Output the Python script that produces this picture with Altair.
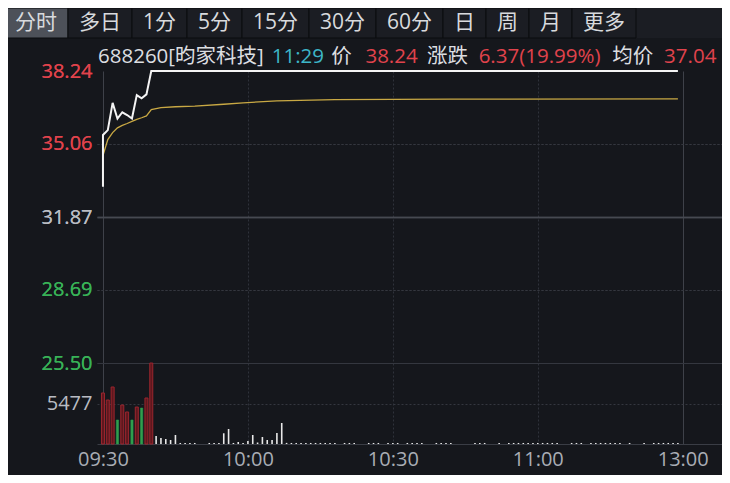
import altair as alt
import pandas as pd

# ---------------- data ----------------
time_ticks = [0, 30, 60, 90, 120]
time_labels = ["09:30", "10:00", "10:30", "11:00", "13:00"]
price_ticks = [25.50, 28.69, 31.87, 35.06, 38.24]
prev_close = 31.87
volume_ticks = [5477]

price_minutes = [0, 0, 1, 2, 3, 4, 5, 6, 7, 8, 9, 10, 119]
price_values = [33.19, 35.45, 35.66, 36.85, 36.16, 36.44, 36.32, 36.17, 37.19, 37.05, 37.22, 38.24, 38.24]

avg_minutes = [0, 1, 2, 3, 4, 5, 6, 7, 8, 9, 10, 12, 15, 19, 25, 29, 36, 48, 72, 119]
avg_values = [34.55, 35.25, 35.55, 35.76, 35.87, 35.95, 36.04, 36.13, 36.20, 36.28, 36.56,
              36.64, 36.68, 36.71, 36.79, 36.85, 36.94, 36.99, 37.01, 37.02]

volumes = [
    6900, 5950, 7710, 3250, 5270, 4330, 3250, 5000, 4870, 6220, 10950,
    1080, 810, 680, 540, 1220, 140, 140, 140, 140, 0,
    0, 140, 140, 140, 1450, 2030, 140, 270, 140, 400,
    1220, 200, 950, 540, 540, 1490, 2840, 150, 140, 140,
    140, 140, 140, 140, 140, 140, 140, 140, 0, 140,
    140, 140, 0, 0, 140, 140, 140, 0, 140, 140,
    140, 0, 140, 140, 140, 140, 0, 0, 140, 140,
    140, 140, 0, 0, 0, 0, 140, 140, 140, 0,
    0, 140, 0, 140, 140, 140, 140, 140, 140, 140,
    140, 140, 140, 140, 0, 0, 140, 140, 140, 0,
    140, 140, 140, 140, 140, 140, 140, 0, 140, 0,
    0, 140, 0, 140, 140, 140, 140, 140, 140,
]
volume_dirs = ["up", "up", "up", "down", "up", "up", "down", "up", "down", "up", "up"] + \
              ["flat"] * (len(volumes) - 11)

tabs = ["分时", "多日", "1分", "5分", "15分", "30分", "60分", "日", "周", "月", "更多"]
info_texts = ["688260[昀家科技]", "11:29", "价", "38.24", "涨跌", "6.37(19.99%)", "均价", "37.04"]

# ---------------- layout / style ----------------
X0, Y0 = 97, 71          # absolute position of plot origin
W, H = 625, 373          # plot size (extends to right edge of the drawing)
PX_PER_MIN = 4.91
PRICE_PANE = 292         # px height of price pane
VOL_PANE = H - PRICE_PANE
FONT = "Open Sans, Noto Sans CJK SC"
BG = "#15171c"
RED, GREEN, GREY = "#e0434c", "#38b257", "#b9bcc3"

x_start = -0.2
x_domain = [x_start, x_start + W / PX_PER_MIN]
price_low = price_ticks[-1] - (price_ticks[-1] - price_ticks[0]) * H / PRICE_PANE
vol_high = 2 * volume_ticks[0] * H / VOL_PANE

info_x_abs = [98, 276, 337, 372, 435, 488, 625, 678]
info_x_abs = [98 + (a - 98) * 0.976 for a in info_x_abs]
info_colors = ["#dcdee1", "#3db6c8", "#dcdee1", RED, "#dcdee1", RED, "#dcdee1", RED]

# tab geometry from label composition
tab_rows = []
cur = 4
for i, t in enumerate(tabs):
    n_digit = sum(c.isdigit() for c in t)
    n_cjk = len(t) - n_digit
    w = 22 + 21 * n_cjk + 12 * n_digit
    tab_rows.append({"label": t, "x": cur - X0, "x2": cur + w - X0,
                     "xc": cur + w / 2 - X0,
                     "fill": "#4d5159" if i == 0 else "#1b1d23"})
    cur += w

# ---------------- frames ----------------
price_df = pd.DataFrame({"t": price_minutes, "p": price_values, "idx": range(len(price_minutes))})
avg_df = pd.DataFrame({"t": avg_minutes, "p": avg_values, "idx": range(len(avg_minutes))})
vol_df = pd.DataFrame({"t": range(len(volumes)), "v": volumes, "dir": volume_dirs})
info_df = pd.DataFrame({"text": info_texts, "color": info_colors,
                        "x": [a - X0 for a in info_x_abs]})
tab_df = pd.DataFrame(tab_rows)

# ---------------- axes ----------------
label_expr = " : ".join(f"datum.value == {t} ? '{l}'" for t, l in zip(time_ticks, time_labels)) + " : ''"
edge_test = f"datum.value == {time_ticks[0]} || datum.value == {time_ticks[-1]}"
x_axis = alt.Axis(
    values=time_ticks, labelExpr=label_expr, title=None, ticks=False,
    domain=True, domainColor="#3a3d45", grid=True,
    gridColor={"condition": {"test": edge_test, "value": "#3e4149"}, "value": "#2f323a"},
    gridDash={"condition": {"test": edge_test, "value": []}, "value": [2, 2]},
    labelColor="#a9adb5", labelFont=FONT, labelFontSize=20, labelPadding=5,
    labelFlush=False, labelOverlap=False,
)
X = alt.X("t:Q", scale=alt.Scale(domain=x_domain, nice=False, zero=False), axis=x_axis)

solid_test = f"datum.value < {price_ticks[0] + 0.5} || abs(datum.value - {prev_close}) < 0.01"
price_axis = alt.Axis(
    values=price_ticks, format=".2f", orient="left", title=None, ticks=False, domain=False,
    grid=True,
    gridColor={"condition": {"test": f"abs(datum.value - {prev_close}) < 0.01", "value": "#464951"},
               "value": "#34373f"},
    gridWidth={"condition": {"test": f"abs(datum.value - {prev_close}) < 0.01", "value": 1.6},
               "value": 1},
    gridDash={"condition": {"test": solid_test, "value": []}, "value": [2, 2]},
    gridOpacity={"condition": {"test": f"datum.value > {price_ticks[-1] - 0.5}", "value": 0},
                 "value": 1},
    labelColor={"condition": [
        {"test": f"datum.value > {prev_close + 0.01}", "value": RED},
        {"test": f"datum.value < {prev_close - 0.01}", "value": GREEN}],
        "value": GREY},
    labelFont=FONT, labelFontSize=20, labelPadding=5, labelFlush=False, labelOverlap=False,
)
Yp = alt.Y("p:Q", scale=alt.Scale(domain=[price_low, price_ticks[-1]], nice=False, zero=False),
           axis=price_axis)

vol_axis = alt.Axis(
    values=volume_ticks, format="d", orient="left", title=None, ticks=False, domain=False,
    grid=True, gridColor="#34373f", gridDash=[2, 2],
    labelColor=GREY, labelFont=FONT, labelFontSize=20, labelPadding=5,
    labelFlush=False, labelOverlap=False,
)

# ---------------- layers ----------------
dirs = ["up", "down", "flat"]
vol_bars = alt.Chart(vol_df).mark_bar().encode(
    x=X,
    y=alt.Y("v:Q", scale=alt.Scale(domain=[0, vol_high], nice=False), axis=vol_axis),
    fill=alt.Fill("dir:N", scale=alt.Scale(domain=dirs,
                                           range=["#5e181e", "#2f9f4e", "#e8e8e8"]), legend=None),
    stroke=alt.Stroke("dir:N", scale=alt.Scale(domain=dirs,
                                               range=["#9c252e", "#2f9f4e", "#e8e8e8"]), legend=None),
    strokeWidth=alt.StrokeWidth("dir:N", scale=alt.Scale(domain=dirs, range=[1, 0, 0]), legend=None),
    size=alt.Size("dir:N", scale=alt.Scale(domain=dirs, range=[3, 1.6, 1.6]), legend=None),
)

avg_line = alt.Chart(avg_df).mark_line(color="#c9a944", strokeWidth=1.3).encode(
    x=X, y=Yp, order="idx:Q")
price_line = alt.Chart(price_df).mark_line(color="#f4f4f4", strokeWidth=2).encode(
    x=X, y=Yp, order="idx:Q")

tab_bar = alt.Chart(pd.DataFrame({"a": [0]})).mark_rect(color="#1b1d23").encode(
    x=alt.value(8 - X0), x2=alt.value(W), y=alt.value(8 - Y0), y2=alt.value(38 - Y0))
tab_rects = alt.Chart(tab_df).mark_rect(stroke="#0b0c0f", strokeWidth=1).encode(
    x=alt.X("x:Q", scale=None), x2="x2:Q",
    y=alt.value(8 - Y0), y2=alt.value(38 - Y0),
    fill=alt.Fill("fill:N", scale=None))
tab_text = alt.Chart(tab_df).mark_text(font=FONT, fontSize=21, color="#d8dadd",
                                       align="center", baseline="middle").encode(
    x=alt.X("xc:Q", scale=None), y=alt.value(23 - Y0), text="label:N")
info_text = alt.Chart(info_df).mark_text(font=FONT, fontSize=20.5, align="left",
                                         baseline="middle").encode(
    x=alt.X("x:Q", scale=None), y=alt.value(57 - Y0), text="text:N",
    color=alt.Color("color:N", scale=None))

chart = alt.layer(
    vol_bars, avg_line, price_line, tab_bar, tab_rects, tab_text, info_text
).resolve_scale(y="independent").resolve_axis(y="independent").properties(
    width=W, height=H,
    padding={"left": X0 - 8, "top": Y0 - 8, "right": 0, "bottom": 475 - Y0 - H},
    autosize=alt.AutoSizeParams(type="none"),
    background=BG,
).configure_view(strokeWidth=0)

chart.save("out.html", embed_options={"renderer": "svg", "actions": False})
